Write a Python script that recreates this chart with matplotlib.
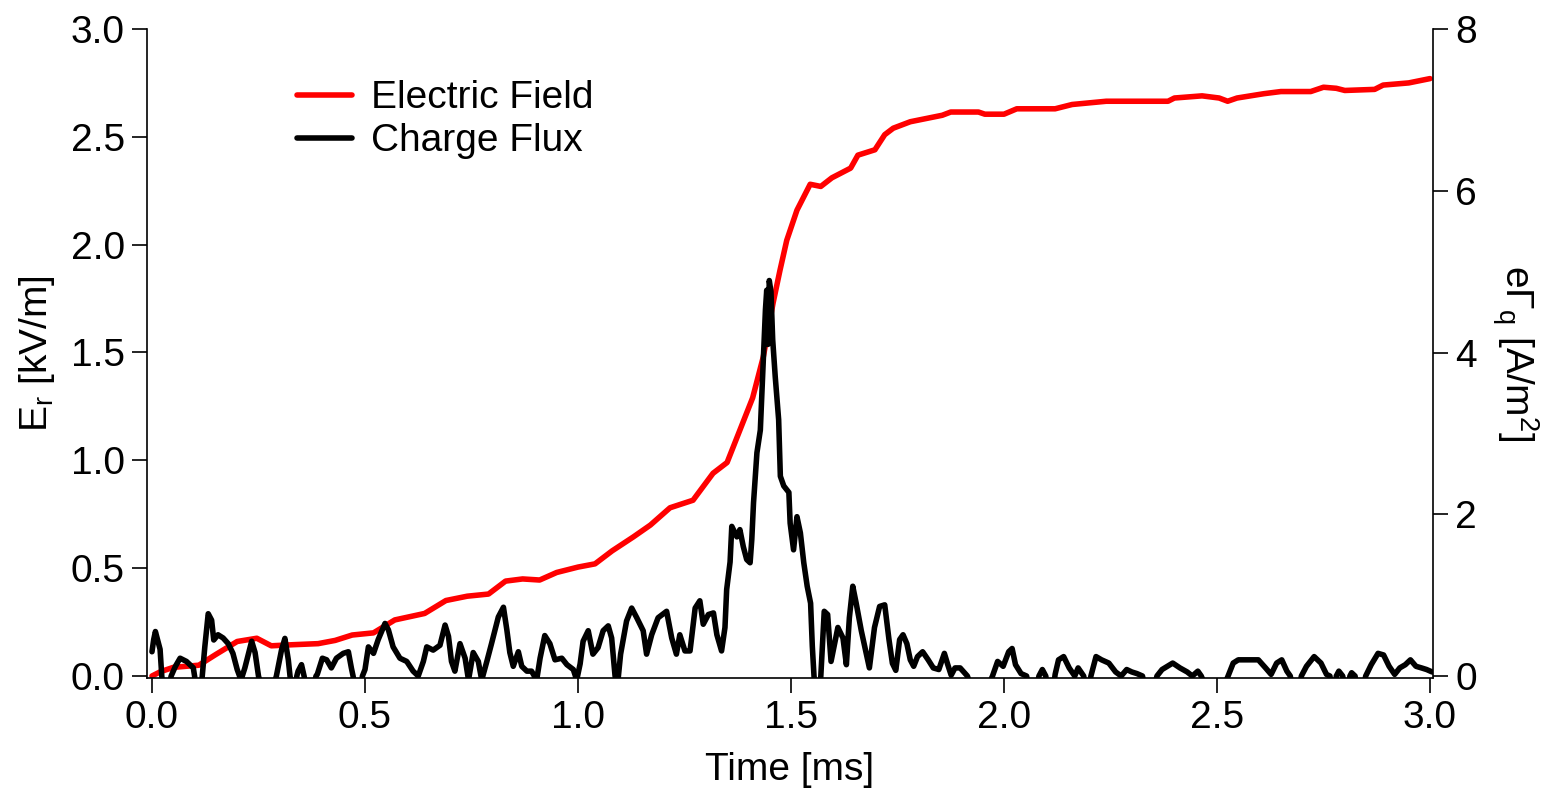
import matplotlib
matplotlib.use("Agg")
import numpy as np
from matplotlib import pyplot as plt

# Electric field trace (left axis, kV/m)
time_e = [0.0, 0.02, 0.05, 0.08, 0.11, 0.15, 0.20, 0.246, 0.28, 0.33, 0.39, 0.43,
          0.47, 0.52, 0.57, 0.64, 0.69, 0.74, 0.79, 0.83, 0.87, 0.91, 0.95, 1.0,
          1.04, 1.08, 1.13, 1.17, 1.216, 1.27, 1.317, 1.35, 1.38, 1.41, 1.435,
          1.458, 1.474, 1.49, 1.514, 1.545, 1.57, 1.596, 1.64, 1.657, 1.697, 1.72,
          1.74, 1.78, 1.855, 1.875, 1.94, 1.955, 2.0, 2.03, 2.12, 2.16, 2.24,
          2.385, 2.40, 2.465, 2.505, 2.525, 2.547, 2.61, 2.65, 2.72, 2.75, 2.78,
          2.80, 2.87, 2.89, 2.95, 3.0]
e_field = [0.0, 0.02, 0.04, 0.045, 0.05, 0.10, 0.16, 0.175, 0.14, 0.145, 0.15, 0.165,
           0.19, 0.20, 0.26, 0.29, 0.35, 0.37, 0.38, 0.44, 0.45, 0.445, 0.48, 0.505,
           0.52, 0.58, 0.645, 0.70, 0.78, 0.815, 0.94, 0.99, 1.14, 1.29, 1.48,
           1.73, 1.88, 2.02, 2.16, 2.28, 2.27, 2.31, 2.355, 2.415, 2.44, 2.51,
           2.54, 2.57, 2.60, 2.615, 2.615, 2.605, 2.605, 2.63, 2.63, 2.65, 2.665,
           2.665, 2.68, 2.69, 2.68, 2.665, 2.68, 2.70, 2.71, 2.71, 2.73, 2.725,
           2.715, 2.72, 2.74, 2.75, 2.77]

# Charge flux trace (right axis, A/m^2); negative values fall below the axis
time_q = [0.0, 0.004, 0.008, 0.013, 0.019, 0.023, 0.03, 0.045, 0.055, 0.066, 0.081,
          0.097, 0.10, 0.11, 0.118, 0.124, 0.132, 0.14, 0.145, 0.155, 0.167, 0.179,
          0.19, 0.20, 0.209, 0.218, 0.234, 0.242, 0.25, 0.27, 0.292, 0.304, 0.312,
          0.32, 0.324, 0.333, 0.34, 0.343, 0.351, 0.357, 0.37, 0.385, 0.388, 0.40,
          0.41, 0.421, 0.433, 0.449, 0.461, 0.468, 0.472, 0.484, 0.494, 0.50, 0.508,
          0.52, 0.531, 0.547, 0.555, 0.566, 0.582, 0.598, 0.613, 0.625, 0.637, 0.645,
          0.66, 0.676, 0.688, 0.696, 0.703, 0.711, 0.723, 0.735, 0.743, 0.754, 0.766,
          0.774, 0.786, 0.797, 0.813, 0.825, 0.833, 0.84, 0.848, 0.86, 0.868, 0.88,
          0.891, 0.903, 0.911, 0.922, 0.934, 0.946, 0.962, 0.974, 0.989, 0.997,
          1.005, 1.012, 1.024, 1.035, 1.047, 1.059, 1.071, 1.079, 1.087, 1.093, 1.1,
          1.114, 1.126, 1.138, 1.153, 1.161, 1.173, 1.188, 1.208, 1.22, 1.231, 1.239,
          1.251, 1.263, 1.275, 1.286, 1.294, 1.306, 1.318, 1.326, 1.337, 1.345,
          1.349, 1.357, 1.361, 1.373, 1.38, 1.388, 1.396, 1.404, 1.408, 1.412, 1.42,
          1.428, 1.434, 1.44, 1.443, 1.446, 1.449, 1.453, 1.457, 1.463, 1.471, 1.475,
          1.483, 1.495, 1.498, 1.506, 1.514, 1.522, 1.53, 1.538, 1.546, 1.55, 1.554,
          1.562, 1.57, 1.578, 1.586, 1.594, 1.61, 1.622, 1.63, 1.637, 1.645, 1.653,
          1.665, 1.677, 1.684, 1.696, 1.708, 1.72, 1.73, 1.738, 1.746, 1.755, 1.763,
          1.772, 1.78, 1.788, 1.797, 1.809, 1.822, 1.834, 1.847, 1.86, 1.868, 1.876,
          1.885, 1.897, 1.914, 1.94, 1.973, 1.985, 1.998, 2.011, 2.019, 2.027, 2.04,
          2.053, 2.068, 2.082, 2.09, 2.098, 2.11, 2.12, 2.128, 2.14, 2.153, 2.166,
          2.174, 2.187, 2.196, 2.204, 2.216, 2.229, 2.246, 2.262, 2.275, 2.288, 2.30,
          2.312, 2.325, 2.342, 2.359, 2.371, 2.396, 2.413, 2.43, 2.442, 2.455, 2.463,
          2.495, 2.526, 2.538, 2.55, 2.597, 2.614, 2.627, 2.64, 2.652, 2.664, 2.672,
          2.685, 2.698, 2.71, 2.728, 2.744, 2.757, 2.765, 2.775, 2.78, 2.786, 2.795,
          2.805, 2.812, 2.816, 2.824, 2.836, 2.849, 2.862, 2.878, 2.891, 2.904, 2.917,
          2.929, 2.942, 2.954, 2.967, 2.98, 2.992, 3.005]
flux = [0.30, 0.45, 0.55, 0.45, 0.33, 0.0, -0.4, 0.0, 0.12, 0.22, 0.18,
        0.10, 0.0, -0.4, 0.0, 0.36, 0.77, 0.69, 0.445, 0.51, 0.47, 0.40,
        0.28, 0.08, -0.05, 0.10, 0.43, 0.29, 0.0, -0.4, 0.0, 0.32, 0.465,
        0.20, 0.0, -0.3, 0.0, 0.06, 0.14, 0.0, -0.4, 0.0, 0.02, 0.22,
        0.20, 0.10, 0.22, 0.28, 0.30, 0.10, 0.0, -0.4, 0.0, 0.08, 0.36,
        0.28, 0.45, 0.65, 0.57, 0.36, 0.22, 0.18, 0.06, 0.0, 0.18, 0.36,
        0.32, 0.38, 0.63, 0.49, 0.18, 0.06, 0.40, 0.22, -0.05, 0.29, 0.18,
        -0.05, 0.18, 0.40, 0.73, 0.85, 0.57, 0.29, 0.12, 0.30, 0.12, 0.06,
        0.06, -0.05, 0.22, 0.50, 0.40, 0.20, 0.22, 0.14, 0.08, -0.05,
        0.15, 0.43, 0.56, 0.27, 0.35, 0.56, 0.62, 0.47, 0.0, -0.1, 0.27,
        0.68, 0.84, 0.72, 0.56, 0.27, 0.51, 0.72, 0.80, 0.47, 0.27, 0.51,
        0.31, 0.31, 0.84, 0.93, 0.64, 0.76, 0.78, 0.51, 0.31, 0.60,
        1.07, 1.41, 1.85, 1.72, 1.81, 1.60, 1.44, 1.40, 1.69, 2.14, 2.76,
        3.04, 3.79, 4.53, 4.77, 4.10, 4.89, 4.75, 4.16, 3.70, 3.17, 2.47,
        2.35, 2.27, 1.89, 1.56, 1.97, 1.77, 1.40, 1.11, 0.90, 0.37, 0.0,
        -0.4, 0.0, 0.80, 0.76, 0.18, 0.60, 0.47, 0.14, 0.72, 1.11, 0.90,
        0.56, 0.27, 0.10, 0.60, 0.86, 0.88, 0.45, 0.157, 0.07, 0.45, 0.51,
        0.40, 0.20, 0.12, 0.24, 0.30, 0.20, 0.10, 0.08, 0.28, 0.14, 0.01,
        0.10, 0.10, 0.0, -0.4, 0.0, 0.18, 0.12, 0.30, 0.34, 0.14, 0.03,
        0.0, -0.4, 0.0, 0.08, 0.0, -0.4, 0.02, 0.20, 0.24, 0.10, 0.0,
        0.10, 0.0, -0.3, 0.0, 0.24, 0.20, 0.16, 0.05, 0.0, 0.08, 0.05,
        0.03, 0.0, -0.4, 0.0, 0.08, 0.16, 0.10, 0.05, 0.0, 0.06, 0.0,
        -0.4, 0.0, 0.16, 0.20, 0.20, 0.10, 0.02, 0.16, 0.20, 0.06, 0.0,
        -0.4, 0.0, 0.12, 0.24, 0.16, 0.02, 0.0, -0.3, 0.0, 0.06, 0.0,
        -0.3, 0.0, 0.04, 0.0, -0.4, 0.0, 0.14, 0.28, 0.26, 0.12, 0.02,
        0.10, 0.14, 0.20, 0.12, 0.10, 0.08, 0.05]

x_ticks = [0.0, 0.5, 1.0, 1.5, 2.0, 2.5, 3.0]
left_ticks = [0.0, 0.5, 1.0, 1.5, 2.0, 2.5, 3.0]
right_ticks = [0, 2, 4, 6, 8]

plt.rcParams["font.family"] = ["Liberation Sans", "DejaVu Sans"]
plt.rcParams["mathtext.fontset"] = "custom"
plt.rcParams["mathtext.rm"] = "Liberation Sans"
plt.rcParams["mathtext.it"] = "Liberation Sans:italic"

fs = 28
fig = plt.figure(figsize=(15.42, 7.92), dpi=100)
ax = fig.add_axes([147 / 1542, 1 - 678 / 792, 1286 / 1542, 649 / 792])
ax2 = ax.twinx()

ax.plot(time_e, e_field, color="#ff0000", lw=4.0, solid_capstyle="round",
        label="Electric Field")
ax2.plot(time_q, flux, color="black", lw=4.0, solid_capstyle="round",
         label="Charge Flux")

ax.set_xlim(-0.0117, 3.007)
ax.set_ylim(-0.0093, 3.0)
ax2.set_ylim(-0.0247, 8.0)

for a in (ax, ax2):
    a.spines["top"].set_visible(False)
    for s in a.spines.values():
        s.set_linewidth(1.2)
ax.spines["right"].set_visible(False)
ax2.spines["left"].set_visible(False)
ax2.spines["bottom"].set_visible(False)

ax.set_xticks(x_ticks, labels=[f"{v:.1f}" for v in x_ticks])
ax.set_yticks(left_ticks, labels=[f"{v:.1f}" for v in left_ticks])
ax2.set_yticks(right_ticks, labels=[str(v) for v in right_ticks])
ax.tick_params(axis="both", direction="out", length=11, width=1.2,
               labelsize=fs, pad=5)
ax2.tick_params(axis="y", direction="out", length=11, width=1.2,
                labelsize=fs, pad=5)

ax.set_xlabel("Time [ms]", fontsize=fs)
ax.xaxis.set_label_coords(0.5, -0.142)
ax.xaxis.label.set_va("center")
ax.set_ylabel(r"E$\mathregular{_r}$ [kV/m]", fontsize=fs)
ax.yaxis.set_label_coords(-0.0855, 0.5)
ax.yaxis.label.set_va("center")
ax2.set_ylabel(r"e$\mathregular{\Gamma_q}$ [A/m$\mathregular{^2}$]",
               fontsize=fs, rotation=-90)
ax2.yaxis.set_label_coords(1.0638, 0.5)
ax2.yaxis.label.set_va("center")

h1, l1 = ax.get_legend_handles_labels()
h2, l2 = ax2.get_legend_handles_labels()
ax2.legend(h1 + h2, l1 + l2, loc="upper left", bbox_to_anchor=(0.1166, 0.921),
           frameon=False, fontsize=fs, handlelength=1.41, handletextpad=0.5,
           labelspacing=0.18, borderpad=0, borderaxespad=0)

fig.savefig("out.png", dpi=100)
